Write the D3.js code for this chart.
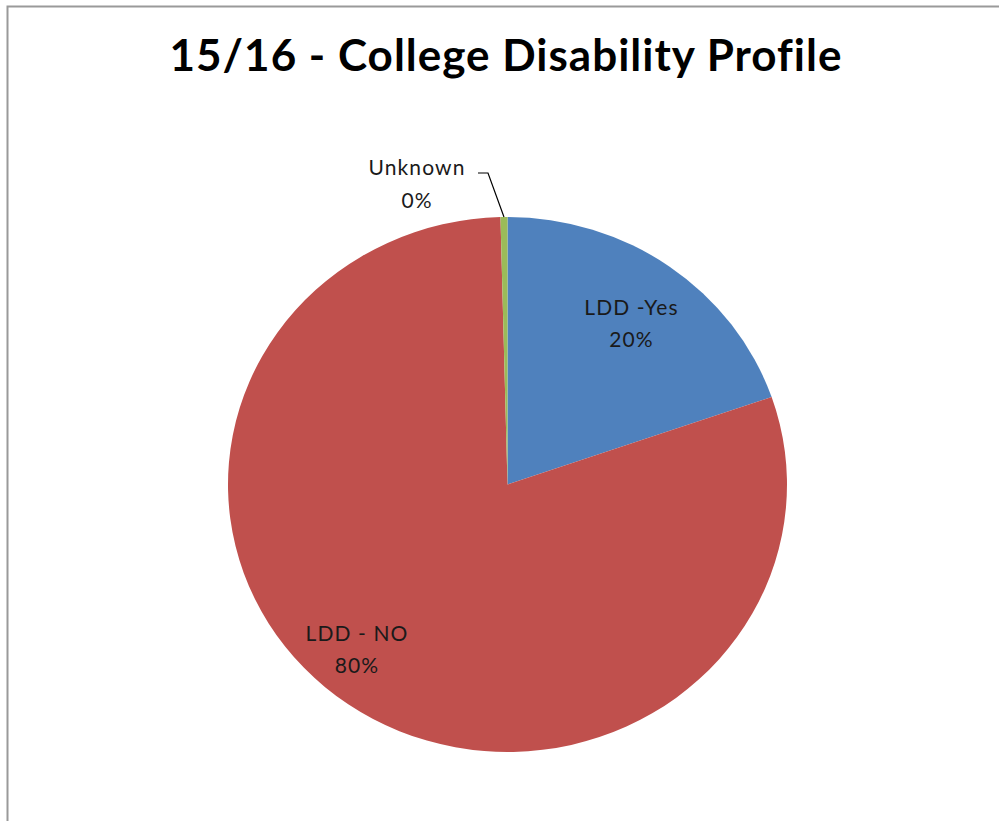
<!DOCTYPE html>
<html>
<head>
<meta charset="utf-8">
<script src="https://cdn.jsdelivr.net/npm/d3@7"></script>
<style>
  html, body { margin: 0; padding: 0; background: #fff; }
  svg { display: block; }
</style>
</head>
<body>
<svg id="chart" width="999" height="821"></svg>
<script>
// Disability profile, share of learners (%)
const categories = ["LDD -Yes", "LDD - NO", "Unknown"];
const shares = [19.7, 79.9, 0.4];
const labels = ["20%", "80%", "0%"];
const colors = ["#4F81BD", "#C0504D", "#9BBB59"];

const svg = d3.select("#chart");
const W = 999, H = 821;
const font = "Lato, 'Open Sans', sans-serif";

// chart area frame
svg.append("rect")
  .attr("x", 7.5).attr("y", 6.5)
  .attr("width", W + 10).attr("height", H + 10)
  .attr("fill", "#fff").attr("stroke", "#9a9a9a").attr("stroke-width", 2);

// title
svg.append("text")
  .attr("x", 506).attr("y", 71)
  .attr("text-anchor", "middle")
  .attr("font-family", font).attr("font-weight", "bold")
  .attr("font-size", 44).attr("letter-spacing", 1).attr("fill", "#000")
  .text("15/16 - College Disability Profile");

const cx = 507.5, cy = 484.5, r = 279.5, sy = 0.957;
const data = categories.map((c, i) => ({ name: c, value: shares[i], label: labels[i], color: colors[i] }));

const pie = d3.pie().value(d => d.value).sort(null);
const arcs = pie(data);
const arc = d3.arc().innerRadius(0).outerRadius(r);

const g = svg.append("g").attr("transform", `translate(${cx},${cy}) scale(1,${sy})`);
g.selectAll("path").data(arcs).enter().append("path")
  .attr("d", arc)
  .attr("fill", d => d.data.color);

// in-slice labels, placed along each slice's bisector
const labelG = svg.append("g")
  .attr("font-family", font).attr("font-size", 21)
  .attr("letter-spacing", 1.1).attr("fill", "#1a1a1a");
const placement = [{ k: 0.746, da: 0.018 }, { k: 0.82, da: 0.11 }];
arcs.slice(0, 2).forEach((a, i) => {
  const ang = (a.startAngle + a.endAngle) / 2 + placement[i].da;
  const rr = r * placement[i].k;
  const px = cx + rr * Math.sin(ang), py = cy - rr * Math.cos(ang) * sy;
  const t = labelG.append("text").attr("text-anchor", "middle");
  t.append("tspan").attr("x", px).attr("y", py - 9).text(a.data.name);
  t.append("tspan").attr("x", px).attr("y", py + 23).text(a.data.label);
});

// outside label with leader line for the tiny slice
const u = arcs[2];
const mid = (u.startAngle + u.endAngle) / 2;
const ex = cx + r * Math.sin(mid), ey = cy - r * Math.cos(mid) * sy;
svg.append("path")
  .attr("d", `M${478},${173}L${488},${173}L${ex},${ey}`)
  .attr("fill", "none").attr("stroke", "#000").attr("stroke-width", 1.2);
const ut = labelG.append("text").attr("text-anchor", "middle");
ut.append("tspan").attr("x", 417).attr("y", 175).text(u.data.name);
ut.append("tspan").attr("x", 417).attr("y", 208).text(u.data.label);
</script>
</body>
</html>
